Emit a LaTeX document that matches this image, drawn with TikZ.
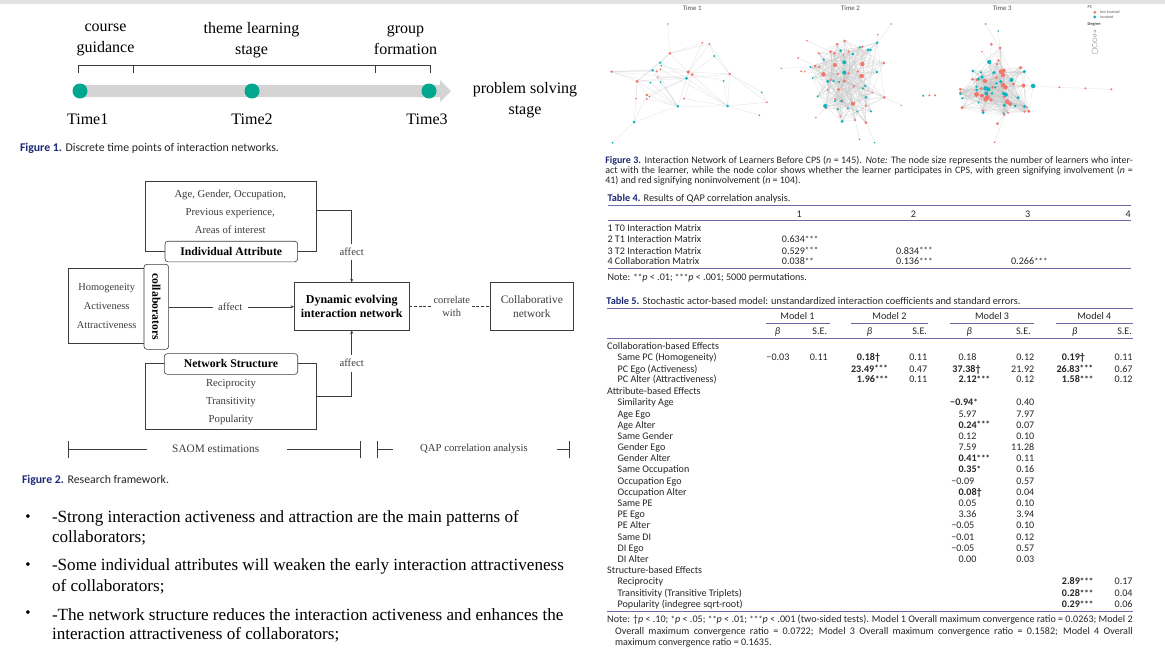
\documentclass[tikz,border=0pt]{standalone}
\usepackage{fontspec}
\setmainfont{Liberation Serif}
\newfontfamily\capfont{Carlito}
\usetikzlibrary{arrows.meta, positioning, backgrounds}
\definecolor{bandgray}{HTML}{E2E2E2}
\definecolor{tealdot}{HTML}{00A78E}
\definecolor{capblue}{HTML}{1C2A78}
\definecolor{rulecol}{HTML}{6A6AA8}
\definecolor{lred}{HTML}{F0766E}
\definecolor{lteal}{HTML}{12B4BC}
\definecolor{inkgray}{HTML}{3C3C3C}
\newcommand{\fs}[2]{\fontsize{#1}{#2}\selectfont}
\newcommand{\jline}[2]{\makebox[#1pt][s]{#2}}
\newcommand{\st}[1]{{\fs{9}{8}\raisebox{.3pt}{#1}}}

\begin{document}
\begin{tikzpicture}[x=1pt,y=-1pt]
    \tikzstyle{every node}=[inner sep=0pt, outer sep=0pt]
    \tikzstyle{stagelabel}=[align=center, font=\fs{16}{21}]
    \tikzstyle{framebox}=[draw=inkgray, line width=.6pt, fill=white]
    \tikzstyle{roundbox}=[framebox, rounded corners=3pt, font=\fs{11.7}{14}\bfseries, text=black]
    \tikzstyle{fwtext}=[font=\fs{10.7}{12}, text=inkgray]
    \tikzstyle{fwline}=[draw=inkgray, line width=.6pt]
    \tikzstyle{fwarrow}=[fwline, -{Stealth[length=3.5pt,width=3pt]}]
    \tikzstyle{caption}=[anchor=west, font=\capfont\fs{11.8}{13}, text=black!85]
    \tikzstyle{tabcaption}=[anchor=west, font=\capfont\fs{10.3}{12}, text=black!85]
    \tikzstyle{bulletline}=[anchor=west, font=\fs{17.1}{19}]
    \tikzstyle{cell}=[anchor=base west, yshift=-3.2pt, font=\capfont\fs{10.1}{11}, text=black!85]
    \tikzstyle{secell}=[cell, anchor=base east]
    \tikzstyle{colhead}=[font=\capfont\fs{10.1}{11}, text=black!85]
    \tikzstyle{tablerule}=[draw=rulecol, line width=.7pt]
    \tikzstyle{learner}=[circle, minimum size=2.5pt]
    \tikzstyle{tie}=[draw=black!22, line width=.25pt, opacity=.6]
    \useasboundingbox (0,0) rectangle (1165,657);
    \begin{scope}[on background layer]
    \fill[white] (0,0) rectangle (1165,657);
    \fill[bandgray] (0,0) rectangle (1165,4);
    \end{scope}

    % Figure 1: time line
    \fill[black!17] (80,85) -- (440,85) -- (440,80) -- (451,91) -- (440,102) -- (440,97) -- (80,97) -- cycle;
    \foreach \name/\x in {1/80,2/252,3/429}
        \node[circle, fill=tealdot, minimum size=15pt] (T-\name) at (\x,91) {};
    \node[stagelabel] (course) at (105.5,40) {course\\guidance};
    \node[stagelabel] (theme) at (251.5,40) {theme learning\\stage};
    \node[stagelabel] (group) at (405.5,40) {group\\formation};
    \node[stagelabel] (solve) at (525,100.5) {problem solving\\stage};
    \foreach \name/\x in {1/87.7,2/252,3/427}
        \node[stagelabel] (L-\name) at (\x,119) {Time\name};
    \coordinate (br-a) at (78.2,65.7);
    \coordinate (br-d) at (430.5,65.7);
    \draw[fwline] (br-a) -- (br-d);
    \foreach \x in {78.2,133.6,375.7,430.5}
        \draw[fwline] (\x,65.7) -- (\x,72.7);
    \node[caption] (cap1) at (20,148) {\textcolor{capblue}{\bfseries Figure 1.} Discrete time points of interaction networks.};

    % Figure 2: research framework
    \node[framebox, minimum width=171.4pt, minimum height=70pt, anchor=north west] (attrbox) at (145.3,181) {};
    \node[fwtext, align=center, font=\fs{10.7}{18}] (attrtxt) at (230.3,212.3) {Age, Gender, Occupation,\\Previous experience,\\Areas of interest};
    \node[roundbox, minimum width=132.7pt, minimum height=20.6pt] (attr) at (231.3,251.5) {Individual Attribute};
    \node[framebox, minimum width=171.4pt, minimum height=66pt, anchor=north west] (structbox) at (145.3,363.3) {};
    \node[fwtext, align=center, font=\fs{10.7}{18}] (structtxt) at (231,402) {Reciprocity\\Transitivity\\Popularity};
    \node[roundbox, minimum width=133.4pt, minimum height=20.7pt] (struct) at (231,364) {Network Structure};
    \node[framebox, minimum width=75.3pt, minimum height=75pt, anchor=north west] (collbox) at (68.7,268.7) {};
    \node[fwtext, align=center, font=\fs{10.4}{19.2}] (colltxt) at (106.7,305.8) {Homogeneity\\Activeness\\Attractiveness};
    \node[roundbox, minimum width=85pt, minimum height=24.7pt, rotate=-90] (coll) at (156.3,306.8) {collaborators};
    \node[framebox, minimum width=115.3pt, minimum height=48pt, align=center, font=\fs{12}{14.4}\bfseries, text=black] (dyn) at (351.7,306.3) {Dynamic evolving\\interaction network};
    \node[framebox, minimum width=83pt, minimum height=48pt, align=center, font=\fs{11.4}{14.4}, text=inkgray] (cnet) at (531.8,306.3) {Collaborative\\network};
    \node[fwtext] (aff-a) at (230.3,306.8) {affect};
    \node[fwtext] (aff-b) at (351.7,251.7) {affect};
    \node[fwtext] (aff-c) at (351.7,362.7) {affect};
    \node[fwtext, align=center, font=\fs{10.4}{13.3}] (corr) at (451.7,306.6) {correlate\\with};
    \draw[fwline] (coll.north |- aff-a) -- ([xshift=-5pt]aff-a.west);
    \draw[fwarrow] ([xshift=6pt]aff-a.east) -- (dyn.west |- aff-a);
    \draw[fwline] (attrbox.east |- 0,210) -| ([yshift=4pt]aff-b.north);
    \draw[fwarrow] ([yshift=-4pt]aff-b.south) -- (dyn.north);
    \draw[fwline] (structbox.east |- 0,396.7) -| ([yshift=-5pt]aff-c.south);
    \draw[fwarrow] ([yshift=4pt]aff-c.north) -- (dyn.south);
    \draw[fwline, dashed, dash pattern=on 3pt off 1.6pt] (dyn.east) -- ([xshift=-3pt]dyn.east -| corr.west);
    \draw[fwline, dashed, dash pattern=on 3pt off 1.6pt] ([xshift=2pt]cnet.west -| corr.east) -- (cnet.west);

    % spans under the framework
    \node[fwtext, font=\fs{11.3}{13}] (saom) at (215.7,449.3) {SAOM estimations};
    \node[fwtext] (qap) at (474,449.3) {QAP correlation analysis};
    \foreach \name/\x in {a/68.7,b/360.3,c/377.3,d/569.3}
        \coordinate (tick-\name) at (\x,449.3);
    \foreach \name in {a,b,c,d}
        \draw[fwline] ([yshift=-9pt]tick-\name) -- ([yshift=8.5pt]tick-\name);
    \draw[fwline] (tick-a) -- ([xshift=-25pt]saom.west);
    \draw[fwline] ([xshift=28pt]saom.east) -- (tick-b);
    \draw[fwline] (tick-c) -- (392.7,449.3);
    \draw[fwline] (557.3,449.3) -- (tick-d);
    \node[caption] (cap2) at (22,480) {\textcolor{capblue}{\bfseries Figure 2.} Research framework.};

    % Bullet lines
    \foreach \y/\line [count=\i] in {
        518.5/-Strong interaction activeness and attraction are the main patterns of,
        537.5/collaborators;,
        566.5/-Some individual attributes will weaken the early interaction attractiveness,
        586.5/of collaborators;,
        614.5/-The network structure reduces the interaction activeness and enhances the,
        634.5/interaction attractiveness of collaborators;}
        \node[bulletline] (B-\i) at (52,\y) {\line};
    \foreach \y [count=\i] in {518,566,614}
        \node[font=\fs{15}{16}] (dot-\i) at (28,\y) {•};

    % Right column
    \begin{scope}[x=1.081pt, xshift=-48.6pt]
    % Figure 3: the three networks, in crop units
    \begin{scope}[shift={(600,0)},x=.36036pt,y=-.33333pt]
    \foreach \x/\y/\c/\s [count=\i] in {
        188/72/lred/1.8, 284/128/lred/2, 304/132/lred/2.2, 194/160/lred/3, 32/215/lred/2.6, 103/244/lred/3.4,
        245/216/lred/3.6, 256/224/lred/3, 360/222/lred/2.6, 157/214/lred/2.2, 168/208/lred/2, 160/232/lred/2,
        130/285/lred/3, 130/297/lred/2.2, 100/296/lred/1.8, 233/296/lred/2.2, 463/307/lred/2,
        167/188/lteal/2.6, 146/211/lteal/2.6, 170/197/lteal/2, 140/248/lteal/2.2, 168/246/lteal/2, 240/235/lteal/3.2,
        317/168/lteal/2.4, 343/243/lteal/2.2, 216/319/lteal/3, 354/318/lteal/3, 449/277/lteal/2, 442/346/lteal/1.8,
        95/366/lteal/3, 35/428/lteal/2, 137/290/lteal/1.8}
        \node[learner, fill=\c, minimum size=\s pt] (A-\i) at (\x,\y) {};
    \begin{scope}[on background layer]
    \foreach \a/\b in {1/4,4/18,4/7,4/6,4/2,4/3,3/7,2/7,3/24,24/23,24/9,3/9,5/6,5/19,5/7,5/21,6/18,6/23,6/26,6/13,6/30,
        7/23,7/9,7/27,23/9,23/26,23/27,23/13,9/27,9/28,9/17,25/27,25/9,26/27,27/17,27/29,26/30,30/31,30/13,13/26,18/23,
        19/26,21/26,22/26,16/27,28/17,10/26,11/27,8/25,8/16,5/11,5/23,6/8,12/23,14/26,15/6,20/7,32/23}
        \draw[tie] (A-\a) -- (A-\b);
    \end{scope}

    % Time 2
    \foreach \x/\y/\c/\s [count=\i] in {
        679/123/lred/3, 658/133/lred/3, 728/140/lred/2.6, 640/155/lred/3, 650/160/lred/3, 607/160/lred/2.2,
        690/155/lred/2.4, 676/165/lred/2.2, 728/192/lred/4.6, 652/195/lred/4, 788/189/lred/3, 597/198/lred/3,
        608/201/lred/2.6, 620/223/lred/4.6, 726/228/lred/4.6, 660/222/lred/2.6, 690/220/lred/2.4, 678/243/lred/3.4,
        716/214/lred/2.6, 632/270/lred/2.4, 662/268/lred/3, 704/259/lred/2.6, 756/278/lred/2, 789/292/lred/3,
        652/297/lred/2.2, 702/311/lred/4.2, 672/304/lred/2.6, 627/323/lred/3.4, 738/317/lred/2.4, 667/349/lred/2.4,
        708/360/lred/2.6, 738/368/lred/3, 640/240/lred/2.4,
        769/128/lteal/3, 721/142/lteal/2.6, 668/152/lteal/3, 702/162/lteal/3, 744/149/lteal/3, 750/150/lteal/3,
        621/179/lteal/2.6, 678/187/lteal/4.2, 584/201/lteal/2.4, 768/216/lteal/3, 678/218/lteal/4.2, 590/234/lteal/2.2,
        632/244/lteal/3.6, 648/243/lteal/2.6, 664/246/lteal/2.2, 730/265/lteal/2.4, 736/258/lteal/2.6, 604/289/lteal/2.4,
        738/292/lteal/3, 652/303/lteal/2.2, 670/303/lteal/3, 625/318/lteal/4.2, 688/325/lteal/2.4, 660/328/lteal/2.4,
        714/335/lteal/2.2, 752/334/lteal/2.6, 672/364/lteal/3.2}
        \node[learner, fill=\c, minimum size=\s pt] (H-\i) at (\x,\y) {};
    \foreach \x/\y/\c/\s/\to [count=\i] in {
        808/72/lred/1.8/34, 771/104/lred/1.8/34, 574/122/lred/1.8/4, 550/174/lred/2/12, 558/214/lred/2/13,
        568/215/lred/1.8/14, 503/205/lteal/1.6/42, 836/316/lred/1.6/24, 599/353/lred/1.8/28, 720/418/lteal/1.8/31,
        762/428/lteal/1.8/32}
    {
        \node[learner, fill=\c, minimum size=\s pt] (HO-\i) at (\x,\y) {};
        \begin{scope}[on background layer]
        \draw[tie] (HO-\i) -- (H-\to);
        \end{scope}
    }
    \begin{scope}[on background layer]
    \foreach \i in {1,...,60}
        \foreach \k in {4,9,17,28,33}
        {
            \pgfmathtruncatemacro{\j}{mod(\i+\k,60)+1}
            \draw[tie] (H-\i) -- (H-\j);
        }
    \end{scope}

    % Time 3
    \foreach \x/\y/\c/\s [count=\i] in {
        1110/144/lred/3, 1106/181/lred/2.6, 1102/192/lred/2.6, 1167/203/lred/3.6, 1113/215/lred/4.6, 1118/225/lred/4.6,
        1100/233/lred/3, 1120/212/lred/4, 1034/238/lred/3, 1068/243/lred/4.4, 1045/240/lred/3, 1147/252/lred/3.6,
        1175/257/lred/4, 1118/255/lred/4.6, 1125/262/lred/4.6, 1090/262/lred/3, 1058/265/lred/3, 1045/283/lred/5,
        1060/287/lred/4, 1075/292/lred/5, 1070/298/lred/4.6, 1085/300/lred/3.6, 1122/290/lred/3, 1130/305/lred/4.6,
        1138/312/lred/4, 1000/268/lred/3, 1000/278/lred/2.6, 1005/323/lred/3.4, 1062/332/lred/3, 1132/338/lred/2.4,
        1122/345/lred/2.6, 1178/335/lred/2.6, 1190/334/lred/3.4, 1185/322/lred/2,
        1080/186/lteal/4.2, 1035/213/lteal/3, 1057/217/lteal/2.6, 1093/218/lteal/3.6, 1142/240/lteal/4.2, 1177/215/lteal/3.6,
        1060/231/lteal/3.6, 1050/237/lteal/3.6, 1100/250/lteal/2.6, 1112/245/lteal/3.6, 1070/265/lteal/4.6, 1078/268/lteal/4.2,
        1045/270/lteal/3, 1088/280/lteal/2.6, 1120/280/lteal/3.6, 1126/284/lteal/4.2, 1160/293/lteal/3.4, 1000/282/lteal/2.6,
        1005/295/lteal/2.4, 1050/308/lteal/2.2, 1152/318/lteal/3, 1178/320/lteal/3.4, 1122/316/lteal/3.6, 1063/338/lteal/3.2,
        1120/340/lteal/2.4, 1045/260/lteal/2.6, 1072/280/lteal/4, 1097/262/lteal/2.6}
        \node[learner, fill=\c, minimum size=\s pt] (C-\i) at (\x,\y) {};
    \foreach \x/\y/\c/\s/\to [count=\i] in {
        1070/72/lred/2/1, 1105/93/lteal/1.8/1, 1086/133/lred/3/35, 1060/155/lred/1.8/35, 1103/371/lred/3/31,
        1095/427/lred/2/31, 1202/258/lteal/4.6/13}
    {
        \node[learner, fill=\c, minimum size=\s pt] (CO-\i) at (\x,\y) {};
        \begin{scope}[on background layer]
        \draw[tie] (CO-\i) -- (C-\to);
        \end{scope}
    }
    \foreach \x/\y/\c [count=\i] in {1275/262/lred,1347/265/lred,1419/268/lred,897/287/lteal,914/286/lred,930/286/lred}
        \node[learner, fill=\c, minimum size=2.2pt] (CI-\i) at (\x,\y) {};
    \begin{scope}[on background layer]
    \foreach \a/\b in {CO-7/CI-1,CI-1/CI-2,CI-2/CI-3,CO-7/C-15,CO-7/C-39,CO-7/C-40,CO-7/C-51,CO-7/C-33}
        \draw[tie] (\a) -- (\b);
    \foreach \i in {1,...,62}
        \foreach \k in {3,7,12,19,26,31}
        {
            \pgfmathtruncatemacro{\j}{mod(\i+\k,62)+1}
            \draw[tie] (C-\i) -- (C-\j);
        }
    \end{scope}

    % Legend of figure 3
    \node[learner, fill=lred, minimum size=3.2pt] (leg-a) at (1373,37) {};
    \node[learner, fill=lteal, minimum size=3.2pt] (leg-b) at (1373,51) {};
    \foreach \y/\s [count=\i] in {93/2.6,106/3.4,120/4.2,135/5,153/6}
        \node[circle, draw=black!45, line width=.3pt, minimum size=\s pt] (deg-\i) at (1373,\y) {};
    \node[font=\capfont\fs{4.4}{5}, anchor=west, text=black!70] (leg-pc) at (1353,20) {PC};
    \node[font=\capfont\fs{3.8}{5}, anchor=west, text=black!70] (leg-c) at (1388,37) {Not involved};
    \node[font=\capfont\fs{3.8}{5}, anchor=west, text=black!70] (leg-d) at (1388,51) {Involved};
    \node[font=\capfont\fs{4.4}{5}\bfseries, anchor=west, text=black!70] (leg-e) at (1353,74) {Degree};
    \end{scope}

    \foreach \x [count=\i] in {685.3,831.7,972}
        \node[font=\capfont\fs{6.8}{8}, text=black!70] (N-\i) at (\x,8) {Time \i};

    % Figure 3 caption
    \node[tabcaption, font=\capfont\fs{9.95}{11}] (cap3a) at (605,160.7) {\jline{527.5}{\textcolor{capblue}{\bfseries Figure 3.} Interaction Network of Learners Before CPS (\textit{n} = 145). \textit{Note:} The node size represents the number of learners who inter-}};
    \node[tabcaption, font=\capfont\fs{9.95}{11}] (cap3b) at (605,171) {\jline{527.5}{act with the learner, while the node color shows whether the learner participates in CPS, with green signifying involvement (\textit{n} =}};
    \node[tabcaption, font=\capfont\fs{9.95}{11}] (cap3c) at (605,180.7) {41) and red signifying noninvolvement (\textit{n} = 104).};

    % Table 4
    \node[tabcaption] (tab4) at (607,198.7) {\textcolor{capblue}{\bfseries Table 4.} Results of QAP correlation analysis.};
    \foreach \y in {205.7,220.7,268.7}
        \draw[tablerule] (607,\y) -- (1091,\y);
    \foreach \x [count=\i] in {784.3,890,995.7,1088.7}
        \node[colhead] (Q-\i) at (\x,214) {\i};
    \foreach \y/\txt [count=\i] in {228.3/1 T0 Interaction Matrix,239.7/2 T1 Interaction Matrix,251/3 T2 Interaction Matrix,261.7/4 Collaboration Matrix}
        \node[cell] (QL-\i) at (607,\y) {\txt};
    \foreach \x/\y/\val [count=\i] in {768.3/239.7/0.634,768.3/251/0.529,874/251/0.834,874/261.7/0.136,980.3/261.7/0.266}
        \node[cell] (QV-\i) at (\x,\y) {\val\st{***}};
    \node[cell] (QV-6) at (768.3,261.7) {0.038\st{**}};
    \node[cell] (Qnote) at (607,277.3) {Note: \st{**}\textit{p} < .01; \st{***}\textit{p} < .001; 5000 permutations.};

    % Table 5
    \node[tabcaption] (tab5) at (606,300.7) {\textcolor{capblue}{\bfseries Table 5.} Stochastic actor-based model: unstandardized interaction coefficients and standard errors.};
    \foreach \y in {308.3,338.3,611.7}
        \draw[tablerule] (606.7,\y) -- (1092.7,\y);
    \foreach \a/\b/\x [count=\i] in {753.7/812.3/782.7,832.3/903.3/867.7,923.7/1001.7/962.7,1022/1092.7/1057.3}
    {
        \node[colhead] (M-\i) at (\x,316) {Model \i};
        \draw[tablerule] (\a,323.3) -- (\b,323.3);
    }
    \foreach \x/\y [count=\i] in {764.3/\textit{β},803.3/S.E.,849.3/\textit{β},895.7/S.E.,941.7/\textit{β},991.7/S.E.,1039.3/\textit{β},1085.3/S.E.}
        \node[colhead] (H5-\i) at (\x,331.7) {\y};

    % Row labels of table 5
    \foreach \y/\txt [count=\i] in {346.7/Collaboration-based Effects,391/Attribute-based Effects,570.7/Structure-based Effects}
        \node[cell] (G-\i) at (606.7,\y) {\txt};
    \foreach \y/\txt [count=\i] in {
        357.7/Same PC (Homogeneity), 369/PC Ego (Activeness), 379.7/PC Alter (Attractiveness),
        402.7/Similarity Age, 414/Age Ego, 425/Age Alter, 436/Same Gender, 447/Gender Ego, 458.3/Gender Alter,
        469.7/Same Occupation, 481/Occupation Ego, 492/Occupation Alter, 503/Same PE, 514.3/PE Ego, 525.7/PE Alter,
        537.3/Same DI, 548.3/DI Ego, 559.3/DI Alter, 581.7/Reciprocity, 593.7/Transitivity (Transitive Triplets),
        604.3/Popularity (indegree sqrt-root)}
        \node[cell] (R-\i) at (616.3,\y) {\txt};

    % Coefficients, left aligned
    \foreach \x/\y/\val [count=\i] in {
        754/357.7/−0.03, 837.7/357.7/\textbf{0.18†}, 832.3/369/\textbf{23.49\st{***}}, 837.7/379.7/\textbf{1.96\st{***}},
        931.7/357.7/0.18, 926/369/\textbf{37.38†}, 931.7/379.7/\textbf{2.12\st{***}},
        1027.3/357.7/\textbf{0.19†}, 1022.3/369/\textbf{26.83\st{***}}, 1027.3/379.7/\textbf{1.58\st{***}},
        924/402.7/\textbf{−0.94\st{*}}, 931.7/414/5.97, 931.7/425/\textbf{0.24\st{***}}, 931.7/436/0.12, 931.7/447/7.59,
        931.7/458.3/\textbf{0.41\st{***}}, 931.7/469.7/\textbf{0.35\st{*}}, 925/481/−0.09, 931.7/492/\textbf{0.08†},
        931.7/503/0.05, 931.7/514.3/3.36, 925/525.7/−0.05, 925/537.3/−0.01, 925/548.3/−0.05, 931.7/559.3/0.00,
        1027.3/581.7/\textbf{2.89\st{***}}, 1027.3/593.7/\textbf{0.28\st{***}}, 1027.3/604.3/\textbf{0.29\st{***}}}
        \node[cell] (V-\i) at (\x,\y) {\val};

    % Standard errors, right aligned
    \foreach \x/\y/\val [count=\i] in {
        810.7/357.7/0.11, 902.7/357.7/0.11, 902.7/369/0.47, 902.7/379.7/0.11,
        1001.7/357.7/0.12, 1001.7/369/21.92, 1001.7/379.7/0.12,
        1092.7/357.7/0.11, 1092.7/369/0.67, 1092.7/379.7/0.12,
        1001.7/402.7/0.40, 1001.7/414/7.97, 1001.7/425/0.07, 1001.7/436/0.10, 1001.7/447/11.28, 1001.7/458.3/0.11,
        1001.7/469.7/0.16, 1001.7/481/0.57, 1001.7/492/0.04, 1001.7/503/0.10, 1001.7/514.3/3.94, 1001.7/525.7/0.10,
        1001.7/537.3/0.12, 1001.7/548.3/0.57, 1001.7/559.3/0.03,
        1092.7/581.7/0.17, 1092.7/593.7/0.04, 1092.7/604.3/0.06}
        \node[secell] (S-\i) at (\x,\y) {\val};

    % Note of table 5
    \node[cell] (note-a) at (606.7,619.3) {\jline{525.4}{Note: †\textit{p} < .10; \st{*}\textit{p} < .05; \st{**}\textit{p} < .01; \st{***}\textit{p} < .001 (two-sided tests). Model 1 Overall maximum convergence ratio = 0.0263; Model 2}};
    \node[cell] (note-b) at (614,631) {\jline{517.5}{Overall maximum convergence ratio = 0.0722; Model 3 Overall maximum convergence ratio = 0.1582; Model 4 Overall}};
    \node[cell] (note-c) at (614,642) {maximum convergence ratio = 0.1635.};
    \end{scope}
\end{tikzpicture}
\end{document}
